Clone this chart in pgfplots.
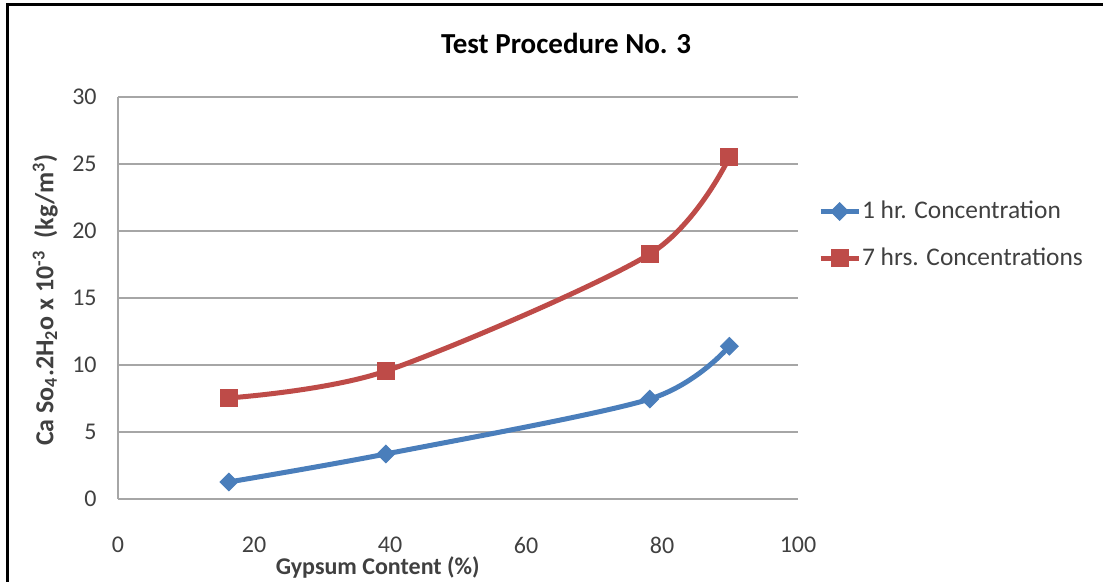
\documentclass[border=0pt]{standalone}
\usepackage{fontspec}
\setmainfont{Carlito}
\usepackage{pgfplots}
\pgfplotsset{compat=1.18}

\definecolor{xlblue}{HTML}{4A7EBB}
\definecolor{xlred}{HTML}{BE4B48}
\definecolor{gridgray}{HTML}{A6A6A6}
\definecolor{txtgray}{HTML}{404040}

\begin{document}
\begin{tikzpicture}
\useasboundingbox (0,0) rectangle (551.5pt,291pt);
\begin{axis}[
  at={(59pt,41.5pt)}, anchor=south west,
  scale only axis,
  width=340pt, height=201pt,
  xmin=0, xmax=100, ymin=0, ymax=30,
  xtick={0,20,...,100},
  ytick={0,5,...,30},
  axis x line*=bottom, axis y line*=left,
  axis line style={gridgray, line width=0.9pt},
  ymajorgrids,
  major grid style={gridgray, line width=0.9pt},
  major tick length=0pt,
  /pgf/number format/assume math mode=true,
  tick label style={font=\fontsize{12}{14}\selectfont, text=txtgray, inner sep=0pt},
  xticklabel style={anchor=center, yshift=-23pt},
  yticklabel style={anchor=east, xshift=-10.5pt},
  title={Test Procedure No. 3},
  title style={at={(rel axis cs:0.659,1.134)}, anchor=center, yshift=-6pt,
    font=\bfseries\fontsize{14.5}{17}\selectfont},
  xlabel={Gypsum Content (\%)},
  xlabel style={at={(rel axis cs:0.382,-0.17)}, anchor=center,
    font=\bfseries\fontsize{12}{14}\selectfont, text=txtgray},
  ylabel={Ca So\textsubscript{4}.2H\textsubscript{2}o x 10\textsuperscript{-3}~ (kg/m\textsuperscript{3})},
  ylabel style={at={(rel axis cs:-0.107,0.495)}, anchor=center,
    font=\bfseries\fontsize{13}{15}\selectfont, text=txtgray},
  legend style={
    at={(rel axis cs:1.029,0.657)}, anchor=west,
    draw=none, fill=none, inner sep=0pt,
    font=\fontsize{12.7}{15}\selectfont, text=txtgray,
    row sep=12pt,
    nodes={inner sep=0.5pt},
  },
  legend cell align=left,
  legend image code/.code={
    \draw[#1, mark repeat=2, mark phase=2]
      plot coordinates {(0pt,0pt) (9.5pt,0pt) (19pt,0pt)};
  },
]
\addplot[xlblue, line width=2.5pt, smooth, tension=0.5,
  mark=square*, mark size=3.1pt, mark options={rotate=45, line width=0.5pt, fill=xlblue}]
  coordinates {(16.3,1.27) (39.4,3.36) (78.2,7.46) (89.9,11.4)};
\addlegendentry{1 hr. Concentration}
\addplot[xlred, line width=2.5pt, smooth, tension=0.5,
  mark=square*, mark size=4.3pt, mark options={line width=0.5pt, fill=xlred}]
  coordinates {(16.3,7.54) (39.4,9.55) (78.2,18.28) (89.9,25.5)};
\addlegendentry{7 hrs. Concentrations}
\end{axis}
\draw[line width=1.5pt] (3.5pt,0) -- (3.5pt,288.5pt) -- (551.5pt,288.5pt);
\end{tikzpicture}
\end{document}
